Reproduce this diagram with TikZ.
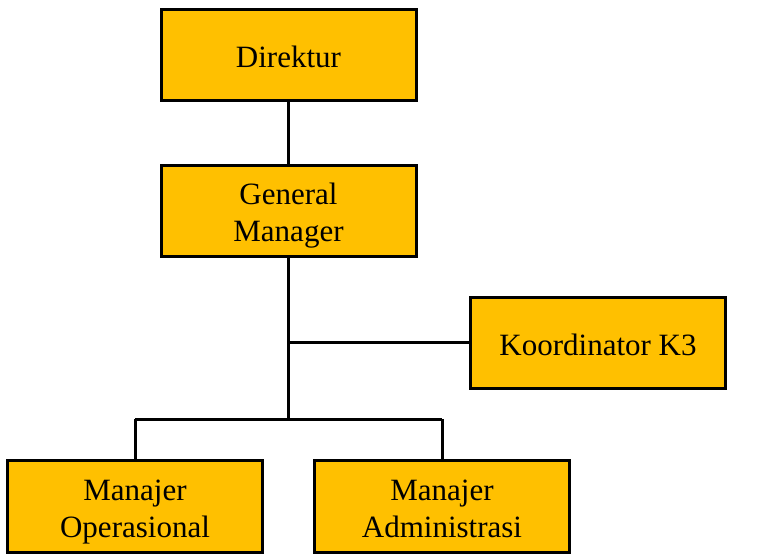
\documentclass[tikz,border=0pt]{standalone}
\usepackage{fontspec}
\setmainfont{Liberation Serif}
\usetikzlibrary{positioning}
\definecolor{kuning}{HTML}{FFC000}
\newcommand{\atas}{\rule{0pt}{36pt}}
\newcommand{\bawah}{\rule[-11pt]{0pt}{11pt}}

\begin{document}
\begin{tikzpicture}[x=1pt, y=1pt, line width=3pt,
    kotak/.style={draw, fill=kuning, minimum width=255pt, minimum height=91pt, align=center, inner sep=0pt,
        font=\fontsize{31}{37}\selectfont}]
        \useasboundingbox (0,0) rectangle (759,-554);
        \node[kotak] at (288.5,-54.5) (dir) {\atas Direktur\bawah};
        \node[kotak, below = 62pt of dir] (gm) {\atas General\\Manager\bawah};
        \node[kotak] at (598,-342.5) (kor) {\atas Koordinator K3\bawah};
        \node[kotak, minimum height=92pt] at (135,-506) (opr) {\atas Manajer\\Operasional\bawah};
        \node[kotak, minimum height=92pt, right = 49pt of opr] (adm) {\atas Manajer\\Administrasi\bawah};
        \coordinate (pusat) at (gm.south |- 0,-419);
        \draw (dir) -- (gm);
        \draw (gm) -- (pusat);
        \draw (kor.west) -- (kor.west -| gm.south);
        \draw (opr.north |- pusat) -- (adm.north |- pusat);
        \draw (opr.north) -- (opr.north |- pusat);
        \draw (adm.north) -- (adm.north |- pusat);
    \end{tikzpicture}
\end{document}
